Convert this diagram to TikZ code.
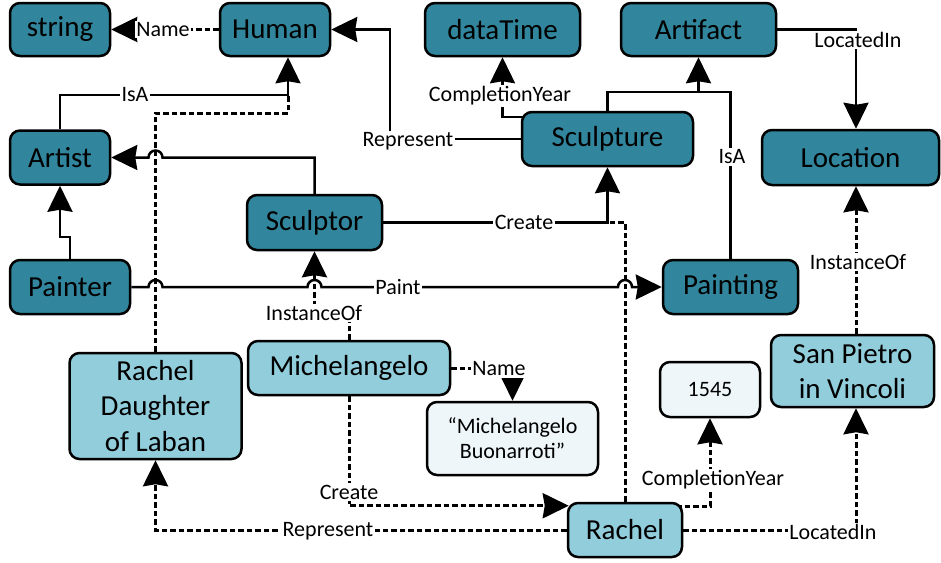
\documentclass[tikz,border=0pt]{standalone}
\usepackage{fontspec}
\setmainfont{Carlito}
\usetikzlibrary{arrows.meta,backgrounds}
\definecolor{deepteal}{HTML}{31859C}
\definecolor{midteal}{HTML}{92CDDC}
\definecolor{paleteal}{HTML}{EEF6F9}
\newcommand{\boxfont}{\fontsize{29}{35.5}\selectfont}
\newcommand{\tagfont}{\fontsize{22}{25}\selectfont}
\begin{document}
\begin{tikzpicture}[x=1pt,y=-1pt,
  box/.style={draw=black, line width=2.5pt, rounded corners=10pt, inner sep=0pt, align=center, font=\boxfont},
  classbox/.style={box, fill=deepteal},
  instbox/.style={box, fill=midteal},
  valbox/.style={box, fill=paleteal, font=\tagfont},
  sz/.style 2 args={minimum width=#1pt, minimum height=#2pt},
  rel/.style={line width=2.5pt},
  relinst/.style={line width=3pt, dash pattern=on 5.5pt off 3pt},
  arrowed/.style={-{Stealth[length=26pt,width=25pt,inset=2pt]}},
  lbl/.style={fill=white, inner sep=1.5pt, font=\tagfont}]
\useasboundingbox (0,0) rectangle (941,562);

% classes
\node[classbox, sz={100}{53}] (string) at (60,29.5) {string};
\node[classbox, sz={110}{53}] (human) at (275,29.5) {Human};
\node[classbox, sz={155}{53}] (datatime) at (502.5,29.5) {dataTime};
\node[classbox, sz={155}{53}] (artifact) at (698.5,29.5) {Artifact};
\node[classbox, sz={100}{54}] (artist) at (60,157.5) {Artist};
\node[classbox, sz={177}{55}] (location) at (850.5,157.5) {Location};
\node[classbox, sz={171}{54}] (sculpture) at (607.5,139) {Sculpture};
\node[classbox, sz={135}{55}] (sculptor) at (314.5,222.5) {Sculptor};
\node[classbox, sz={120}{54}] (painter) at (70,287) {Painter};
\node[classbox, sz={135}{54}] (painting) at (730.5,287) {Painting};

% instances and values
\node[instbox, sz={172}{106}] (rachelD) at (155.5,406) {Rachel\\Daughter\\of Laban};
\node[instbox, sz={202}{54}] (michelangelo) at (349,368) {Michelangelo};
\node[valbox, sz={171}{73}] (fullname) at (512.5,438.5) {“Michelangelo\\Buonarroti”};
\node[valbox, sz={100}{55}] (year) at (710,389.5) {1545};
\node[instbox, sz={163}{72}] (sanpietro) at (852.5,371) {San Pietro\\in Vincoli};
\node[instbox, sz={114}{54}] (rachel) at (625,530) {Rachel};

% crossing points that get a line hop
\coordinate (hA) at (rachelD.north |- artist.east);
\coordinate (hB) at (rachelD.north |- painter.east);
\coordinate (hC) at (sculptor.south |- painter.east);
\coordinate (hD) at (rachel.north |- painter.east);
\coordinate (rachelCin) at ([xshift=2pt,yshift=-4pt]rachel.north west);

\begin{scope}[on background layer]
\fill[white] (0,0) rectangle (941,562);
% schema relations
\draw[relinst,arrowed] (human.west) -- (string.east);
\draw[rel,arrowed] (artist.north) |- (288,95) -- (human.south -| 288,0);
\draw[relinst] (rachelD.north) |- (288,113) -- (288,95);
\draw[rel,arrowed] (sculptor.north) |- ([xshift=7pt]hA) arc[start angle=0,end angle=180,radius=7pt] -- (artist.east);
\draw[rel,arrowed] (painter.north) -- (painter.north |- 0,237) -| (artist.south);
\draw[rel,arrowed] (painter.east) -- ([xshift=-7pt]hB) arc[start angle=180,end angle=0,radius=7pt]
  -- ([xshift=-7pt]hC) arc[start angle=180,end angle=0,radius=7pt]
  -- ([xshift=-7pt]hD) arc[start angle=180,end angle=0,radius=7pt] -- (painting.west);
\draw[relinst,arrowed] (michelangelo.north) |- (sculptor.south |- 0,318) -- (sculptor.south);
\draw[rel,arrowed] (sculptor.east) -| (sculpture.south);
\draw[relinst] (rachel.north) |- (sculpture.south |- sculptor.east);
\draw[rel,arrowed] (sculpture.west) -- (390,139) |- (human.east);
\draw[rel,arrowed] (sculpture.center |- 0,117) -| (datatime.south);
\draw[rel,arrowed] (sculpture.north) |- (artifact.south |- 0,92) -- (artifact.south);
\draw[rel] (painting.north) |- (artifact.south |- 0,92);
\draw[rel,arrowed] (artifact.east) -| (location.north -| 856,0);
% instance relations
\draw[relinst,arrowed] (sanpietro.north -| 856,0) -- (location.south -| 856,0);
\draw[relinst,arrowed] (michelangelo.east) -| (fullname.north);
\draw[relinst,arrowed] (michelangelo.south) |- (rachelCin);
\draw[relinst,arrowed] (rachel.west) -| (rachelD.south);
\draw[relinst,arrowed] (rachel.center |- 0,506) -| (year.south);
\draw[relinst,arrowed] (rachel.east) -| (sanpietro.south -| 856,0);
\end{scope}

% relation labels
\node[lbl] (tName1) at (163,29.5) {Name};
\node[lbl] (tIsA1) at (135,95) {IsA};
\node[lbl] (tPaint) at (398,287) {Paint};
\node[lbl] (tCreate1) at (524,222.5) {Create};
\node[lbl] (tInst1) at (314,313) {InstanceOf};
\node[lbl] (tRep1) at (408,141) {Represent};
\node[lbl] (tYear1) at (500,96) {CompletionYear};
\node[lbl] (tIsA2) at (732,157) {IsA};
\node[lbl] (tLoc1) at (858,40) {LocatedIn};
\node[lbl] (tInst2) at (858,262) {InstanceOf};
\node[lbl] (tName2) at (499,369) {Name};
\node[lbl] (tCreate2) at (349,492) {Create};
\node[lbl] (tRep2) at (328,531) {Represent};
\node[lbl] (tYear2) at (713,480) {CompletionYear};
\node[lbl] (tLoc2) at (833,532) {LocatedIn};
\end{tikzpicture}
\end{document}
